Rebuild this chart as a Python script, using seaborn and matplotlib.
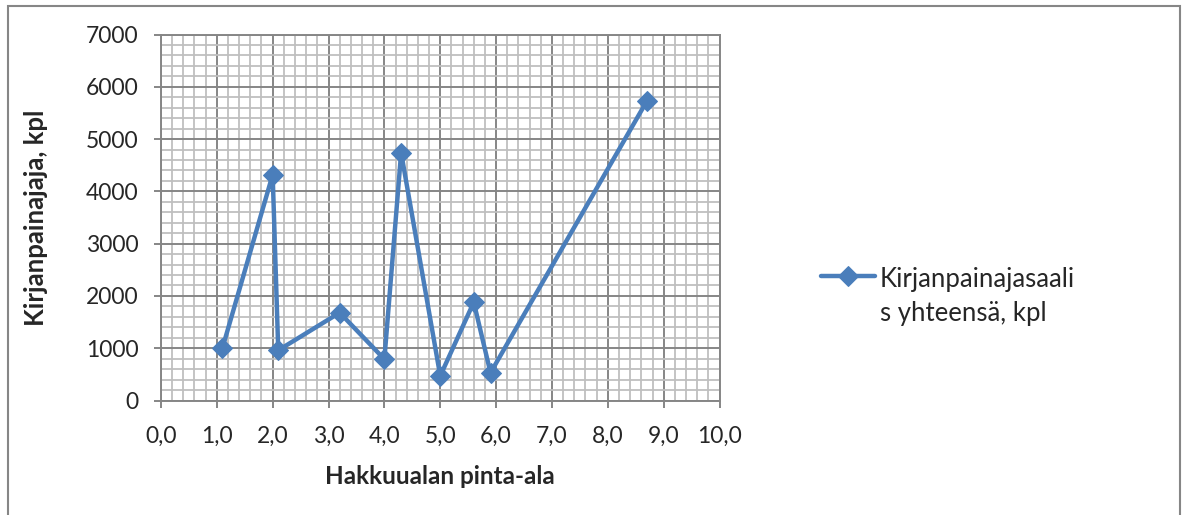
import matplotlib
matplotlib.use("Agg")
import matplotlib.pyplot as plt
import seaborn as sns
import pandas as pd
from matplotlib.patches import Rectangle
from matplotlib.ticker import FuncFormatter, MultipleLocator

# Data
pinta_ala = [1.1, 2.0, 2.1, 3.2, 4.0, 4.3, 5.0, 5.6, 5.9, 8.7]
saalis = [1000, 4320, 960, 1680, 790, 4740, 470, 1880, 530, 5730]
series_label = "Kirjanpainajasaali\ns yhteensä, kpl"

sns.set_theme(style="white")
plt.rcParams["font.family"] = ["Lato", "DejaVu Sans"]

df = pd.DataFrame({"x": pinta_ala, "y": saalis})

fig = plt.figure(figsize=(11.86, 5.15), dpi=100)
ax = fig.add_axes([0.1357, 0.2223, 0.4710, 0.7107])

blue = "#4A7EBB"
sns.lineplot(
    data=df, x="x", y="y", ax=ax, sort=False, estimator=None,
    color=blue, linewidth=3.2, marker="D", markersize=10,
    markeredgecolor=blue, label=series_label,
)

ax.set_xlim(0, 10)
ax.set_ylim(0, 7000)
ax.xaxis.set_major_locator(MultipleLocator(1))
ax.xaxis.set_minor_locator(MultipleLocator(0.2))
ax.yaxis.set_major_locator(MultipleLocator(1000))
ax.yaxis.set_minor_locator(MultipleLocator(200))
ax.xaxis.set_major_formatter(FuncFormatter(lambda v, p: f"{v:.1f}".replace(".", ",")))

ax.grid(which="minor", color="#BFBFBF", linewidth=1.3)
ax.grid(which="major", color="#868686", linewidth=1.4)
ax.set_axisbelow(True)

for s in ax.spines.values():
    s.set_color("#868686")
    s.set_linewidth(1.4)

ax.tick_params(axis="both", which="major", labelsize=16.5, length=5,
               color="#868686", width=1.4, direction="out",
               bottom=True, left=True)
ax.tick_params(axis="y", pad=11)
ax.tick_params(axis="x", pad=13)
ax.tick_params(which="minor", length=0)

ax.set_xlabel("Hakkuualan pinta-ala", fontsize=17.5, fontweight="bold", labelpad=13)
ax.set_ylabel("Kirjanpainajaja, kpl", fontsize=18.5, fontweight="bold", labelpad=27)

leg = ax.legend(loc="center left", bbox_to_anchor=(1.14, 0.285), frameon=False,
                fontsize=18.5, handlelength=2.1, handletextpad=0.2, labelspacing=0.3)
for t in leg.get_texts():
    t.set_linespacing(1.45)

# put the legend line level with the first text line, like Excel does
try:
    for column in leg._legend_handle_box.get_children():
        for item in column.get_children():
            item.align = "top"
except AttributeError:
    pass

fig.patches.append(Rectangle((8 / 1186, -0.02), 1172 / 1186, 1.02 - 6 / 515,
                             transform=fig.transFigure, fill=False,
                             edgecolor="#868686", linewidth=1.5))

fig.savefig("out.png", dpi=100, facecolor="white")
